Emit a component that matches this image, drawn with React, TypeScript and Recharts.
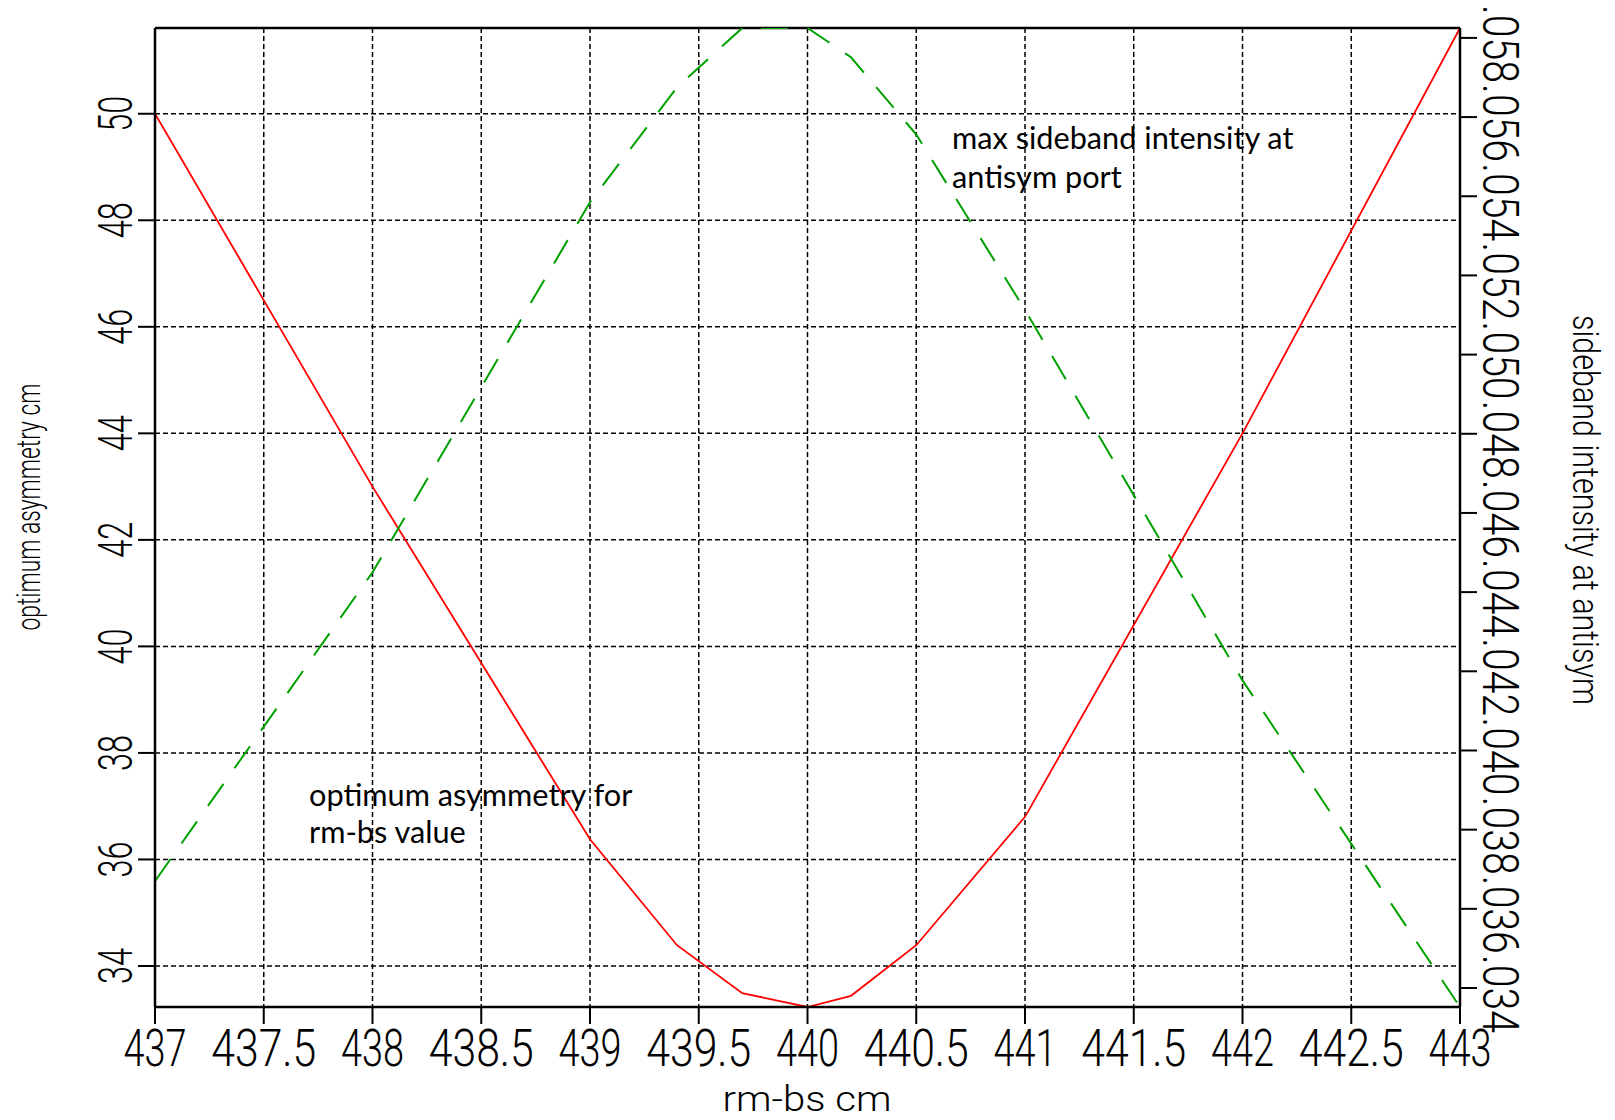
import { LineChart, Line, XAxis, YAxis, CartesianGrid, ReferenceLine } from 'recharts';

const rmBs = [437, 438, 439, 439.4, 439.7, 440, 440.2, 440.5, 441, 442, 443];
const asymmetry = [50.0, 43.0, 36.38, 34.39, 33.49, 33.23, 33.44, 34.39, 36.8, 44.0, 51.61];
const sideband = [0.0367, 0.0445, 0.05385, 0.05675, 0.05825, 0.05825, 0.05751, 0.05556, 0.05113, 0.04177, 0.03352];

const xTicks = [437, 437.5, 438, 438.5, 439, 439.5, 440, 440.5, 441, 441.5, 442, 442.5, 443];
const leftTicks = [34, 36, 38, 40, 42, 44, 46, 48, 50];
const rightTicks = [0.034, 0.036, 0.038, 0.04, 0.042, 0.044, 0.046, 0.048, 0.05, 0.052, 0.054, 0.056, 0.058];

const rows = rmBs.map((x, i) => ({ x, asym: asymmetry[i], side: sideband[i] }));

const tickFont = 'Roboto, "DejaVu Sans", sans-serif';

function XTick(props: any) {
  const { x, y, payload } = props;
  const s = String(payload.value);
  return (
    <text x={x} y={y + 40} textAnchor="middle" fontFamily={tickFont} fontWeight={300} fontSize={51}
      fill="#000" textLength={s.length * 21} lengthAdjust="spacingAndGlyphs">
      {s}
    </text>
  );
}

function LeftTick(props: any) {
  const { x, y, payload } = props;
  const s = String(payload.value);
  const bx = x - 4;
  return (
    <text x={bx} y={y} transform={`rotate(-90 ${bx} ${y})`} textAnchor="middle" fontFamily={tickFont}
      fontWeight={300} fontSize={49} fill="#000" textLength={s.length * 18} lengthAdjust="spacingAndGlyphs">
      {s}
    </text>
  );
}

function RightTick(props: any) {
  const { x, y, payload } = props;
  const s = Number(payload.value).toFixed(3).replace(/^0/, '');
  const bx = x + 4;
  const by = y + 6;
  return (
    <text x={bx} y={by} transform={`rotate(90 ${bx} ${by})`} textAnchor="middle" fontFamily={tickFont}
      fontWeight={300} fontSize={50} fill="#000" textLength={78} lengthAdjust="spacingAndGlyphs">
      {s}
    </text>
  );
}

export default function App() {
  return (
    <div style={{ position: 'absolute', left: 0, top: 0, width: 1615, height: 1120, background: '#fff' }}>
      <LineChart width={1615} height={1120} data={rows} margin={{ top: 28, right: 0, bottom: 0, left: 0 }}>
        <CartesianGrid yAxisId="left" stroke="#000" strokeDasharray="5 3" strokeWidth={1.5} />
        <XAxis dataKey="x" type="number" domain={[437, 443]} ticks={xTicks} interval={0} height={113}
          tickSize={17} allowDataOverflow tick={<XTick />}
          axisLine={{ stroke: '#000', strokeWidth: 2.5 }} tickLine={{ stroke: '#000', strokeWidth: 2 }} />
        <YAxis yAxisId="left" domain={[33.23, 51.61]} ticks={leftTicks} interval={0} width={155}
          tickSize={17} allowDataOverflow tick={<LeftTick />}
          axisLine={{ stroke: '#000', strokeWidth: 2.5 }} tickLine={{ stroke: '#000', strokeWidth: 2 }} />
        <YAxis yAxisId="right" orientation="right" domain={[0.03352, 0.05825]} ticks={rightTicks} interval={0}
          width={155} tickSize={17} allowDataOverflow tick={<RightTick />}
          axisLine={{ stroke: '#000', strokeWidth: 2.5 }} tickLine={{ stroke: '#000', strokeWidth: 2 }} />
        <ReferenceLine yAxisId="left" y={51.61} stroke="#000" strokeWidth={2.5} />
        <Line yAxisId="left" type="linear" dataKey="asym" stroke="#ff0000" strokeWidth={1.8} dot={false}
          isAnimationActive={false} />
        <Line yAxisId="right" type="linear" dataKey="side" stroke="#00a000" strokeWidth={2} strokeDasharray="27 19"
          dot={false} isAnimationActive={false} />
      </LineChart>
      <svg width={1615} height={1120} style={{ position: 'absolute', left: 0, top: 0, pointerEvents: 'none' }}>
        <g fontFamily={tickFont} fontWeight={300} fill="#000">
          <text x={807} y={1111} textAnchor="middle" fontSize={35} textLength={169} lengthAdjust="spacingAndGlyphs">
            rm-bs cm
          </text>
          <text x={40} y={507} transform="rotate(-90 40 507)" textAnchor="middle" fontSize={33} textLength={247}
            lengthAdjust="spacingAndGlyphs">
            optimum asymmetry cm
          </text>
          <text x={1573} y={510} transform="rotate(90 1573 510)" textAnchor="middle" fontSize={36} textLength={390}
            lengthAdjust="spacingAndGlyphs">
            sideband intensity at antisym
          </text>
        </g>
        <g fontFamily="Lato, 'Open Sans', sans-serif" fontSize={30.7} fill="#000">
          <text x={952} y={149}>max sideband intensity at</text>
          <text x={952} y={188}>antisym port</text>
          <text x={309} y={806}>optimum asymmetry for</text>
          <text x={309} y={843}>rm-bs value</text>
        </g>
      </svg>
    </div>
  );
}
